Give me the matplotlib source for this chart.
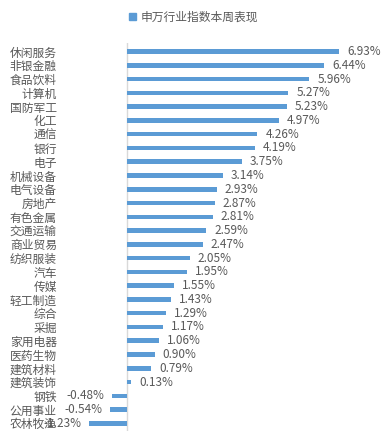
import matplotlib
matplotlib.use("Agg")
import matplotlib.pyplot as plt
from matplotlib.patches import Patch

plt.rcParams['font.family'] = ['Noto Sans CJK SC', 'DejaVu Sans']

industries = ["休闲服务", "非银金融", "食品饮料", "计算机", "国防军工", "化工", "通信",
              "银行", "电子", "机械设备", "电气设备", "房地产", "有色金属", "交通运输",
              "商业贸易", "纺织服装", "汽车", "传媒", "轻工制造", "综合", "采掘",
              "家用电器", "医药生物", "建筑材料", "建筑装饰", "钢铁", "公用事业", "农林牧渔"]
weekly_change = [6.93, 6.44, 5.96, 5.27, 5.23, 4.97, 4.26, 4.19, 3.75, 3.14, 2.93, 2.87,
                 2.81, 2.59, 2.47, 2.05, 1.95, 1.55, 1.43, 1.29, 1.17, 1.06, 0.90, 0.79,
                 0.13, -0.48, -0.54, -1.23]
series_name = "申万行业指数本周表现"

bar_color = "#5B9BD5"
text_color = "#595959"

fig = plt.figure(figsize=(3.87, 4.47), dpi=100)
ax = fig.add_axes([0.154, 0.036, 0.807, 0.867])

pos = list(range(len(industries)))
ax.barh(pos, weekly_change, height=0.33, color=bar_color)
ax.axvline(0, color="#D9D9D9", linewidth=1, zorder=0)

for y, v in zip(pos, weekly_change):
    if v >= 0:
        ax.text(v + 0.26, y, f"{v:.2f}%", va="center", ha="left",
                fontsize=8.5, color=text_color)
    else:
        ax.text(v - 0.26, y, f"-{abs(v):.2f}%", va="center", ha="right",
                fontsize=8.5, color=text_color)

ax.set_xlim(-2.2, 8)
ax.set_ylim(27.55, -0.6)
ax.set_yticks(pos)
ax.set_yticklabels(industries, fontsize=8.5, color=text_color)
ax.tick_params(axis="y", length=0, pad=2)
ax.set_xticks([])
for s in ax.spines.values():
    s.set_visible(False)

fig.legend(handles=[Patch(color=bar_color)], labels=[series_name],
           loc="center", bbox_to_anchor=(0.5, 0.962), frameon=False,
           fontsize=8.5, labelcolor=text_color, handlelength=0.6,
           handleheight=0.6, handletextpad=0.4)

fig.savefig("out.png", dpi=100)
